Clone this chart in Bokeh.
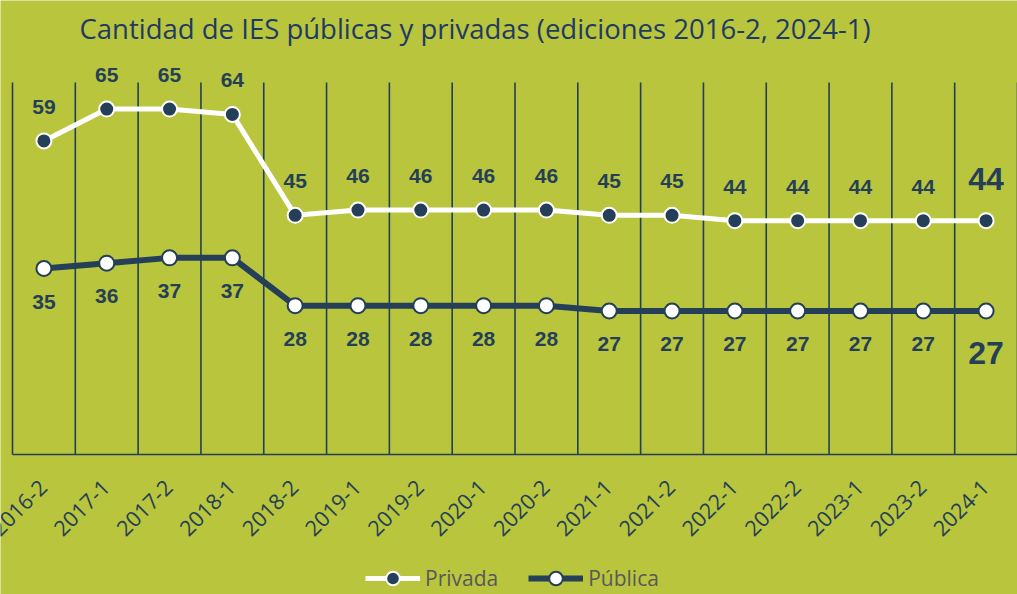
import math
from bokeh.plotting import figure
from bokeh.models import ColumnDataSource, Label, Legend, LegendItem, Range1d
from bokeh.core.properties import value
from bokeh.embed import file_html
from bokeh.resources import INLINE

categories = ["2016-2", "2017-1", "2017-2", "2018-1", "2018-2", "2019-1", "2019-2", "2020-1",
              "2020-2", "2021-1", "2021-2", "2022-1", "2022-2", "2023-1", "2023-2", "2024-1"]
privada = [59, 65, 65, 64, 45, 46, 46, 46, 46, 45, 45, 44, 44, 44, 44, 44]
publica = [35, 36, 37, 37, 28, 28, 28, 28, 28, 27, 27, 27, 27, 27, 27, 27]
title_text = "Cantidad de IES públicas y privadas (ediciones 2016-2, 2024-1)"
y_axis_max = 70

BG = "#B8C53D"
NAVY = "#243F57"

W, H = 1017, 594
plot_left, plot_top, plot_bottom = 12, 82, 454
n = len(categories)
xs = list(range(n))

px_x = (W - plot_left) / n
px_y = (plot_bottom - plot_top) / y_axis_max

def lbl(vals):
    return [str(v) for v in vals]

src = ColumnDataSource(dict(x=xs, cat=categories, priv=privada, pub=publica))
rest = ColumnDataSource(dict(x=xs[:-1], priv=privada[:-1], pub=publica[:-1],
                             priv_lbl=lbl(privada[:-1]), pub_lbl=lbl(publica[:-1])))
last = ColumnDataSource(dict(x=xs[-1:], priv=privada[-1:], pub=publica[-1:],
                             priv_lbl=lbl(privada[-1:]), pub_lbl=lbl(publica[-1:])))

p = figure(width=W, height=H,
           x_range=Range1d(-0.5 - plot_left / px_x, n - 0.5),
           y_range=Range1d(-(H - plot_bottom) / px_y, plot_bottom / px_y),
           output_backend="svg", toolbar_location=None,
           background_fill_color=BG, border_fill_color=BG, outline_line_color=None,
           min_border=0)
p.axis.visible = False
p.grid.grid_line_color = None

# vertical separators at category boundaries
bounds = [i - 0.5 for i in range(n + 1)]
p.segment(x0=bounds, y0=[0] * (n + 1), x1=bounds, y1=[y_axis_max] * (n + 1),
          line_color=NAVY, line_width=1.6)
# category axis baseline
p.segment(x0=[bounds[0]], y0=[0], x1=[bounds[-1]], y1=[0], line_color=NAVY, line_width=1.6)

# category tick labels (rotated 45°)
p.text("x", 0, text="cat", source=src, angle=math.pi / 4, text_align="right", text_baseline="middle",
       x_offset=-1, y_offset=29, text_font=value("Open Sans"), text_font_size="21.5px", text_color=NAVY)

l1 = p.line("x", "priv", source=src, line_color="white", line_width=5)
s1 = p.scatter("x", "priv", source=src, size=15, fill_color=NAVY, line_color="white", line_width=2)
l2 = p.line("x", "pub", source=src, line_color=NAVY, line_width=6)
s2 = p.scatter("x", "pub", source=src, size=15, fill_color="white", line_color=NAVY, line_width=2)

common = dict(text_align="center", text_baseline="middle", text_font=value("Liberation Sans"),
              text_font_style="bold", text_color=NAVY)
p.text("x", "priv", text="priv_lbl", source=rest, y_offset=-34, text_font_size="21px", **common)
p.text("x", "pub", text="pub_lbl", source=rest, y_offset=33, text_font_size="21px", **common)
p.text("x", "priv", text="priv_lbl", source=last, y_offset=-42, text_font_size="32px", **common)
p.text("x", "pub", text="pub_lbl", source=last, y_offset=42, text_font_size="32px", **common)

p.add_layout(Label(x=79, y=H - 27.5, x_units="screen", y_units="screen", text=title_text,
                   text_font="Open Sans", text_font_size="27.5px", text_color="#1F3A63",
                   text_align="left", text_baseline="alphabetic"))

legend = Legend(items=[LegendItem(label="Privada", renderers=[l1, s1]),
                       LegendItem(label="Pública", renderers=[l2, s2])],
                location=(365, -1), orientation="horizontal", background_fill_alpha=0,
                border_line_color=None, padding=0, margin=0, spacing=30, glyph_width=55, glyph_height=34,
                label_standoff=5, label_text_font="Open Sans", label_text_font_size="21px",
                label_text_color="#595959", label_text_baseline="middle")
p.add_layout(legend, "center")

open("out.html", "w").write(file_html(p, INLINE))
